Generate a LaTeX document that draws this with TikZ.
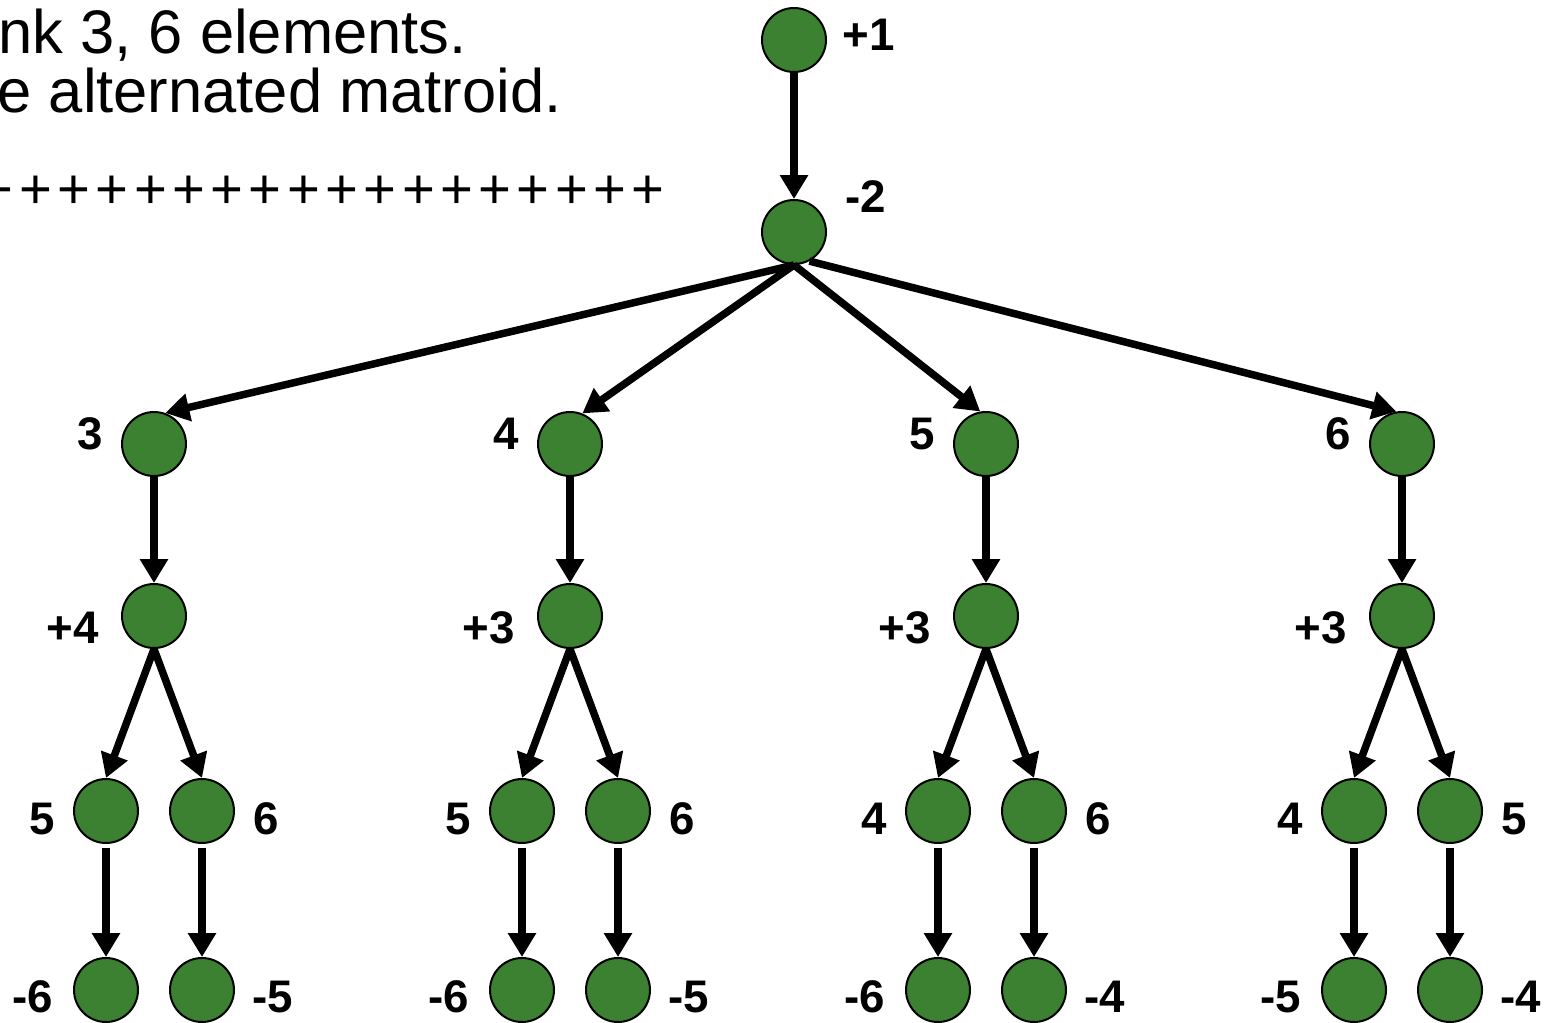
\documentclass[tikz,border=0pt]{standalone}
\usepackage{fontspec}
\setmainfont{Liberation Sans}
\usetikzlibrary{arrows.meta}
\definecolor{nodegreen}{RGB}{60,128,50}
\newcommand\plusbox{\makebox[0.766cm]{+}}
\begin{document}
\begin{tikzpicture}[x=0.02cm,y=-0.02cm,
  gnode/.style={circle,draw=black,line width=0.04cm,fill=nodegreen,minimum size=1.28cm,inner sep=0pt},
  lbl/.style={font=\fontsize{26}{30}\selectfont\bfseries,inner sep=0pt},
  edgearr/.style={line width=0.15cm,-{Triangle[width=0.54cm,length=0.48cm]}},
  toptext/.style={font=\fontsize{35}{40}\selectfont,inner sep=0pt},
  plustext/.style={font=\fontsize{32}{40}\selectfont,inner sep=0pt}]
\useasboundingbox (0,0) rectangle (1550,1023);

% top-left text (cut by the page edge)
\node[toptext,anchor=base east] (t1) at (467,54) {nk 3, 6 elements.};
\node[toptext,anchor=base east] (t2) at (562,113) {e alternated matroid.};
\node[plustext,anchor=base west] (t3) at (-22.2,209) {\plusbox\plusbox\plusbox\plusbox\plusbox\plusbox\plusbox\plusbox\plusbox\plusbox\plusbox\plusbox\plusbox\plusbox\plusbox\plusbox\plusbox\plusbox};

% root and second node
\node[gnode] (r) at (794,40) {};
\node[gnode] (m) at (794,232) {};
\node[lbl] (lr) at (869,35) {+1};
\node[lbl] (lm) at (866,197) {-2};
\draw[edgearr] (r) -- (m);

% four subtrees
\foreach \i/\x/\la/\lb/\lc/\ld/\le/\lf/\sa/\ea in {
  1/154/3/+4/5/6/-6/-5/south/70,
  2/570/4/+3/5/6/-6/-5/south/68,
  3/986/5/+3/4/6/-6/-4/south/100,
  4/1402/6/+3/4/5/-5/-4/-62/100}{
  \node[gnode] (n\i) at (\x,444) {};
  \node[gnode] (p\i) at (\x,616) {};
  \node[gnode] (a\i) at (\x-48,811) {};
  \node[gnode] (b\i) at (\x+48,811) {};
  \node[gnode] (c\i) at (\x-48,990) {};
  \node[gnode] (d\i) at (\x+48,990) {};
  \node[lbl] (ln\i) at (\x-64,434) {\la};
  \node[lbl] (lp\i) at (\x-81,628) {\lb};
  \node[lbl] (la\i) at (\x-112,819) {\lc};
  \node[lbl] (lb\i) at (\x+112,819) {\ld};
  \node[lbl] (lc\i) at (\x-121,997) {\le};
  \node[lbl] (ld\i) at (\x+119,997) {\lf};
  \draw[edgearr] (m.\sa) -- (n\i.\ea);
  \draw[edgearr] (n\i) -- (p\i);
  \draw[edgearr] (p\i.south) -- (a\i.north);
  \draw[edgearr] (p\i.south) -- (b\i.north);
  \draw[edgearr,shorten <=2pt] (a\i) -- (c\i);
  \draw[edgearr,shorten <=2pt] (b\i) -- (d\i);
}
\end{tikzpicture}
\end{document}
